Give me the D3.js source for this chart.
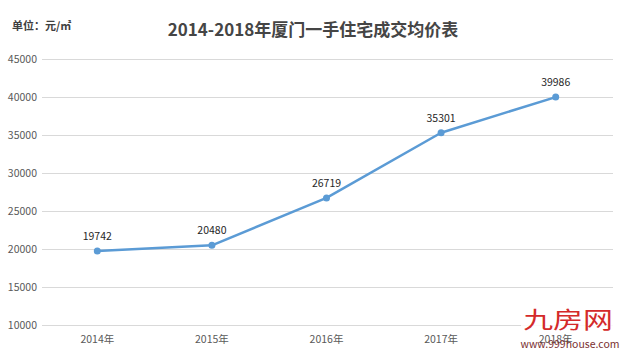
<!DOCTYPE html>
<html><head><meta charset="utf-8">
<script src="https://cdn.jsdelivr.net/npm/d3@7"></script>
<style>body{margin:0;background:#fff}svg{display:block}</style>
</head><body>
<script>
const categories = ["2014年","2015年","2016年","2017年","2018年"];
const values = [19742, 20480, 26719, 35301, 39986];
const yTicks = [10000,15000,20000,25000,30000,35000,40000,45000];
const title = "2014-2018年厦门一手住宅成交均价表";
const unit = "单位：元/㎡";

const W=625,H=352;
const svg=d3.select("body").append("svg").attr("width",W).attr("height",H);
const font="'Microsoft YaHei','Noto Sans CJK SC','DejaVu Sans',sans-serif";
const x=d3.scaleBand().domain(categories).range([40,613]);
const y=d3.scaleLinear().domain([10000,45000]).range([325,59]);

svg.append("text").attr("x",12).attr("y",30).attr("font-family",font).attr("font-size",11).attr("font-weight","bold").attr("fill","#404040").text(unit);
svg.append("text").attr("x",313).attr("y",36).attr("text-anchor","middle").attr("font-family",font).attr("font-size",17).attr("font-weight","bold").attr("fill","#454545").text(title);

const yAxis=d3.axisLeft(y).tickValues(yTicks).tickSize(-(613-42)).tickPadding(5).tickFormat(d3.format("d"));
const ga=svg.append("g").attr("transform","translate(42,0)").call(yAxis);
ga.select(".domain").remove();
ga.selectAll(".tick line").attr("stroke","#d9d9d9");
ga.selectAll(".tick text").attr("font-family",font).attr("font-size",10.5).attr("fill","#595959");

const xAxis=d3.axisBottom(x).tickSize(0).tickPadding(7);
const gx=svg.append("g").attr("transform","translate(0,329)").call(xAxis);
gx.select(".domain").remove();
gx.selectAll(".tick text").attr("font-family",font).attr("font-size",10.5).attr("fill","#595959");

const cx=d=>x(d)+x.bandwidth()/2;
const line=d3.line().x((d,i)=>cx(categories[i])).y(d=>y(d));
svg.append("path").datum(values).attr("d",line).attr("fill","none").attr("stroke","#5b9bd5").attr("stroke-width",2.5).attr("stroke-linejoin","round");
svg.selectAll("circle.pt").data(values).enter().append("circle").attr("class","pt")
  .attr("cx",(d,i)=>cx(categories[i])).attr("cy",d=>y(d)).attr("r",3.5).attr("fill","#5b9bd5");
svg.selectAll("text.lbl").data(values).enter().append("text").attr("class","lbl")
  .attr("x",(d,i)=>cx(categories[i])).attr("y",d=>y(d)-11).attr("text-anchor","middle")
  .attr("font-family",font).attr("font-size",10.5).attr("fill","#262626").text(d=>d);

// watermark
svg.append("rect").attr("x",521).attr("y",305).attr("width",100).attr("height",27).attr("fill","#fff").attr("opacity",0.85);
svg.append("text").attr("transform","translate(568,328) scale(1.3,1)").attr("text-anchor","middle").attr("font-family",font).attr("font-size",23).attr("fill","#d42a2a").text("九房网");
svg.append("text").attr("x",570).attr("y",348).attr("text-anchor","middle").attr("font-family",font).attr("font-size",10.5).attr("fill","#7a3030").text("www.999house.com");
</script>
</body></html>
